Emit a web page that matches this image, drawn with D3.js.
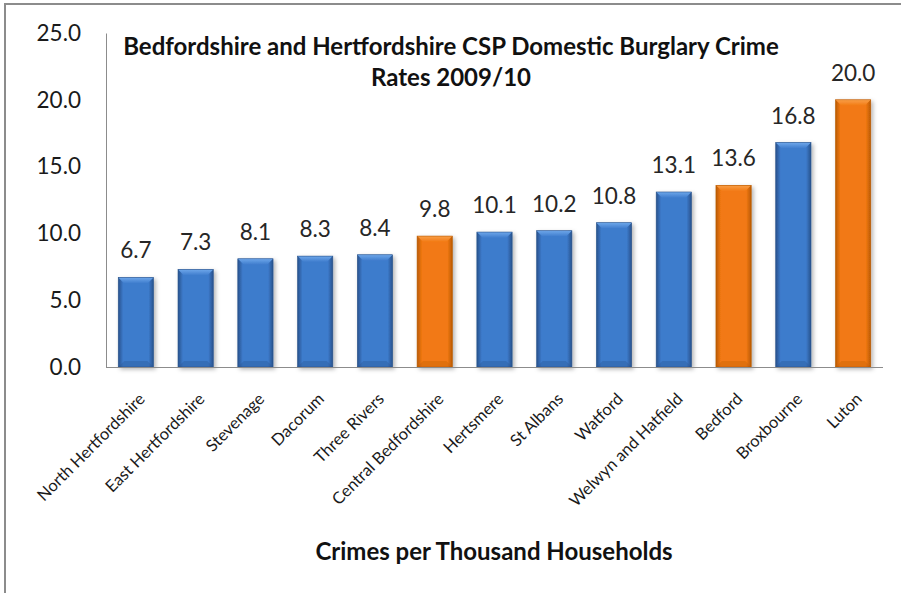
<!DOCTYPE html>
<html><head><meta charset="utf-8">
<script src="https://cdn.jsdelivr.net/npm/d3@7"></script>
<style>
html,body{margin:0;padding:0;background:#fff;}
text{font-family:Lato,"Open Sans",sans-serif;}
</style></head>
<body><svg id="c" width="901" height="593"></svg>
<script>
const categories = ["North Hertfordshire","East Hertfordshire","Stevenage","Dacorum","Three Rivers","Central Bedfordshire","Hertsmere","St Albans","Watford","Welwyn and Hatfield","Bedford","Broxbourne","Luton"];
const values = [6.7,7.3,8.1,8.3,8.4,9.8,10.1,10.2,10.8,13.1,13.6,16.8,20.0];
const highlighted = ["Central Bedfordshire","Bedford","Luton"];
const yTicks = [0,5,10,15,20,25];
const titleLines = ["Bedfordshire and Hertfordshire CSP Domestic Burglary Crime","Rates 2009/10"];
const xTitle = "Crimes per Thousand Households";

const svg = d3.select("#c");
const defs = svg.append("defs");
const palettes = {
  blue:{edge:"#28528c", mid:"#3d7bcc", top:"#6ea7ea", bottom:"#2a5690"},
  orange:{edge:"#b95a02", mid:"#f27913", top:"#f99f48", bottom:"#c05f05"}
};
Object.entries(palettes).forEach(([k,p])=>{
  const g = defs.append("linearGradient").attr("id","g-"+k).attr("x1","0").attr("x2","1").attr("y1","0").attr("y2","0");
  g.append("stop").attr("offset","0").attr("stop-color",p.edge);
  g.append("stop").attr("offset","0.14").attr("stop-color",p.mid);
  g.append("stop").attr("offset","0.86").attr("stop-color",p.mid);
  g.append("stop").attr("offset","1").attr("stop-color",p.edge);
  const t = defs.append("linearGradient").attr("id","t-"+k).attr("x1","0").attr("x2","0").attr("y1","0").attr("y2","1");
  t.append("stop").attr("offset","0").attr("stop-color",p.top);
  t.append("stop").attr("offset","1").attr("stop-color",p.mid);
});
const f = defs.append("filter").attr("id","sh").attr("x","-30%").attr("y","-10%").attr("width","160%").attr("height","130%");
f.append("feDropShadow").attr("dx",2).attr("dy",2).attr("stdDeviation",2).attr("flood-color","#000").attr("flood-opacity",0.3);

// frame
svg.append("path").attr("d","M5,593 L5,4 L901,4").attr("fill","none").attr("stroke","#8c8c8c").attr("stroke-width",2);

const x = d3.scaleBand().domain(categories).range([106,883]).paddingInner(0.41).paddingOuter(0.205);
const y = d3.scaleLinear().domain([0,25]).range([367,33]);

// y axis
const ya = svg.append("g").attr("transform","translate(106,0)")
  .call(d3.axisLeft(y).tickValues(yTicks).tickFormat(d3.format(".1f")).tickSize(0).tickPadding(25));
ya.select(".domain").attr("stroke","#8c8c8c");
ya.selectAll("text").attr("font-size",22.5).attr("fill","#1a1a1a").style("font-family","Lato");

// bars
const bars = svg.append("g").selectAll("g").data(categories).join("g")
  .attr("filter","url(#sh)");
bars.each(function(c,i){
  const g = d3.select(this);
  const k = highlighted.includes(c)?"orange":"blue";
  const p = palettes[k];
  const x0 = x(c), w = x.bandwidth(), y0 = y(values[i]), y1 = y(0);
  g.append("rect").attr("x",x0).attr("y",y0).attr("width",w).attr("height",y1-y0).attr("fill","url(#g-"+k+")");
  const b = 6;
  g.append("path").attr("d",`M${x0},${y0} L${x0+w},${y0} L${x0+w-b},${y0+b} L${x0+b},${y0+b} Z`).attr("fill","url(#t-"+k+")");
  g.append("path").attr("d",`M${x0},${y1} L${x0+w},${y1} L${x0+w-b},${y1-b} L${x0+b},${y1-b} Z`).attr("fill",p.bottom).attr("opacity",0.35);
  g.append("rect").attr("x",x0).attr("y",y0).attr("width",w).attr("height",y1-y0).attr("fill","none").attr("stroke",p.edge).attr("stroke-width",0.6);
});

// x axis
svg.append("line").attr("x1",106).attr("x2",883).attr("y1",367.5).attr("y2",367.5).attr("stroke","#8c8c8c");

// value labels
svg.append("g").selectAll("text").data(categories).join("text")
  .attr("x",c=>x(c)+x.bandwidth()/2)
  .attr("y",(c,i)=>y(values[i])-19)
  .attr("text-anchor","middle").attr("font-size",22.5).attr("fill","#262626")
  .text((c,i)=>values[i].toFixed(1));

// category labels
svg.append("g").selectAll("text").data(categories).join("text")
  .attr("transform",c=>`translate(${x(c)+x.bandwidth()/2+10},${400}) rotate(-45)`)
  .attr("text-anchor","end").attr("font-size",16.5).attr("fill","#1a1a1a")
  .text(c=>c);

// title
svg.append("text").attr("x",451).attr("y",55).attr("text-anchor","middle").attr("font-size",24).attr("font-weight","bold").attr("fill","#111").text(titleLines[0]);
svg.append("text").attr("x",451).attr("y",86).attr("text-anchor","middle").attr("font-size",24).attr("font-weight","bold").attr("fill","#111").text(titleLines[1]);

// x title
svg.append("text").attr("x",494).attr("y",560).attr("text-anchor","middle").attr("font-size",24).attr("font-weight","bold").attr("fill","#111").text(xTitle);
</script></body></html>
